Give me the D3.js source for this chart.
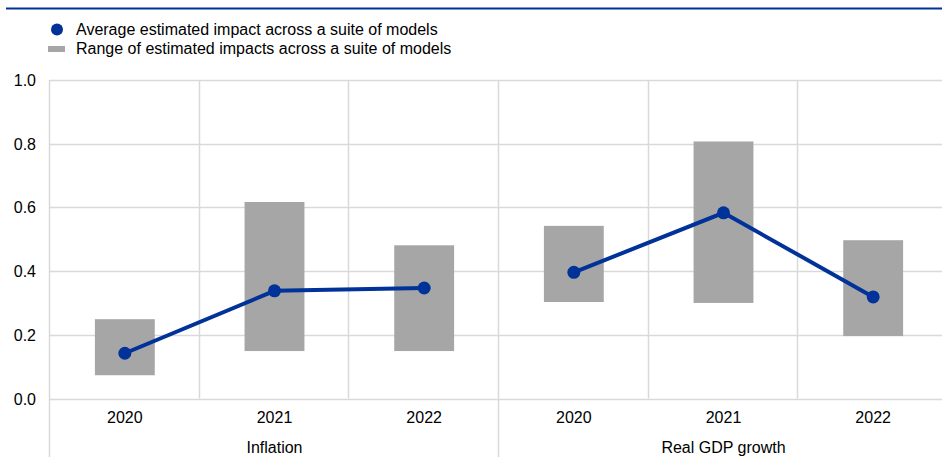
<!DOCTYPE html>
<html lang="en">
<head>
  <meta charset="utf-8">
  <title>Estimated impact</title>
  <script src="https://cdn.jsdelivr.net/npm/d3@7"></script>
  <style>
    body { margin: 0; background: #fff; }
    text { font-family: "Liberation Sans", Arial, sans-serif; fill: #000; font-size: 16px; }
  </style>
</head>
<body>
  <svg id="chart"></svg>
  <script>
    // data
    var groups = ["Inflation", "Real GDP growth"];
    var years = ["2020", "2021", "2022"];
    var rangeLow = [0.073, 0.149, 0.149, 0.303, 0.300, 0.196];
    var rangeHigh = [0.249, 0.617, 0.481, 0.542, 0.807, 0.497];
    var average = [0.142, 0.338, 0.347, 0.396, 0.583, 0.319];
    var yTicks = [0, 0.2, 0.4, 0.6, 0.8, 1.0];
    var legendLabels = ["Average estimated impact across a suite of models",
      "Range of estimated impacts across a suite of models"];

    var w = 942, h = 462;
    var blue = "#003299", grey = "#a6a6a6", grid = "#d9d9d9";

    var svg = d3.select("#chart").attr("width", w).attr("height", h);

    // build category keys
    var cats = [];
    groups.forEach(function(g, gi) {
      years.forEach(function(y, yi) {
        cats.push({ key: g + "-" + y, group: g, gi: gi, year: y, i: gi * years.length + yi });
      });
    });

    var x = d3.scaleBand().domain(cats.map(function(d) { return d.key; }))
      .range([50, 948]);
    var y = d3.scaleLinear().domain([0, 1]).range([398.5, 80]);

    // top rule
    svg.append("line").attr("x1", 6).attr("x2", w).attr("y1", 8.5).attr("y2", 8.5)
      .attr("stroke", blue).attr("stroke-width", 2);

    // legend
    svg.append("circle").attr("cx", 57).attr("cy", 29.5).attr("r", 6).attr("fill", blue);
    svg.append("rect").attr("x", 48).attr("y", 46).attr("width", 17).attr("height", 6).attr("fill", grey);
    svg.selectAll(".leg").data(legendLabels).enter().append("text")
      .attr("x", 76).attr("y", function(d, i) { return 34.5 + i * 19.5; })
      .text(function(d) { return d; });

    // horizontal gridlines
    svg.selectAll(".hg").data(yTicks).enter().append("line")
      .attr("x1", 50).attr("x2", w)
      .attr("y1", function(d) { return Math.round(y(d)) + 0.5; })
      .attr("y2", function(d) { return Math.round(y(d)) + 0.5; })
      .attr("stroke", grid).attr("stroke-width", 1.5);

    // y labels
    svg.selectAll(".yl").data(yTicks).enter().append("text")
      .attr("x", 36).attr("y", function(d) { return y(d) + 6; })
      .attr("text-anchor", "end")
      .text(function(d) { return d3.format(".1f")(d); });

    // vertical gridlines
    cats.forEach(function(c, i) {
      var xx = Math.round(x(c.key)) - 0.5;
      var longer = (i % years.length === 0);
      svg.append("line").attr("x1", xx).attr("x2", xx)
        .attr("y1", y(1)).attr("y2", longer ? 457 : y(0))
        .attr("stroke", grid).attr("stroke-width", 1.5);
    });

    // range bars
    var bw = x.bandwidth() * 0.4;
    svg.selectAll(".bar").data(cats).enter().append("rect")
      .attr("x", function(d) { return x(d.key) + x.bandwidth() / 2 - bw / 2; })
      .attr("y", function(d) { return y(rangeHigh[d.i]); })
      .attr("width", bw)
      .attr("height", function(d) { return y(rangeLow[d.i]) - y(rangeHigh[d.i]); })
      .attr("fill", grey);

    // average lines per group
    var line = d3.line()
      .x(function(d) { return x(d.key) + x.bandwidth() / 2; })
      .y(function(d) { return y(average[d.i]); });
    groups.forEach(function(g, gi) {
      var pts = cats.filter(function(c) { return c.gi === gi; });
      svg.append("path").datum(pts).attr("d", line)
        .attr("fill", "none").attr("stroke", blue).attr("stroke-width", 4);
    });
    svg.selectAll(".dot").data(cats).enter().append("circle")
      .attr("cx", function(d) { return x(d.key) + x.bandwidth() / 2; })
      .attr("cy", function(d) { return y(average[d.i]); })
      .attr("r", 6.5).attr("fill", blue);

    // year labels
    svg.selectAll(".xl").data(cats).enter().append("text")
      .attr("x", function(d) { return x(d.key) + x.bandwidth() / 2; })
      .attr("y", 423).attr("text-anchor", "middle")
      .text(function(d) { return d.year; });

    // group labels
    groups.forEach(function(g, gi) {
      var first = x(cats[gi * years.length].key);
      var last = x(cats[gi * years.length + years.length - 1].key) + x.bandwidth();
      svg.append("text").attr("x", (first + last) / 2).attr("y", 453)
        .attr("text-anchor", "middle").text(g);
    });
  </script>
</body>
</html>
